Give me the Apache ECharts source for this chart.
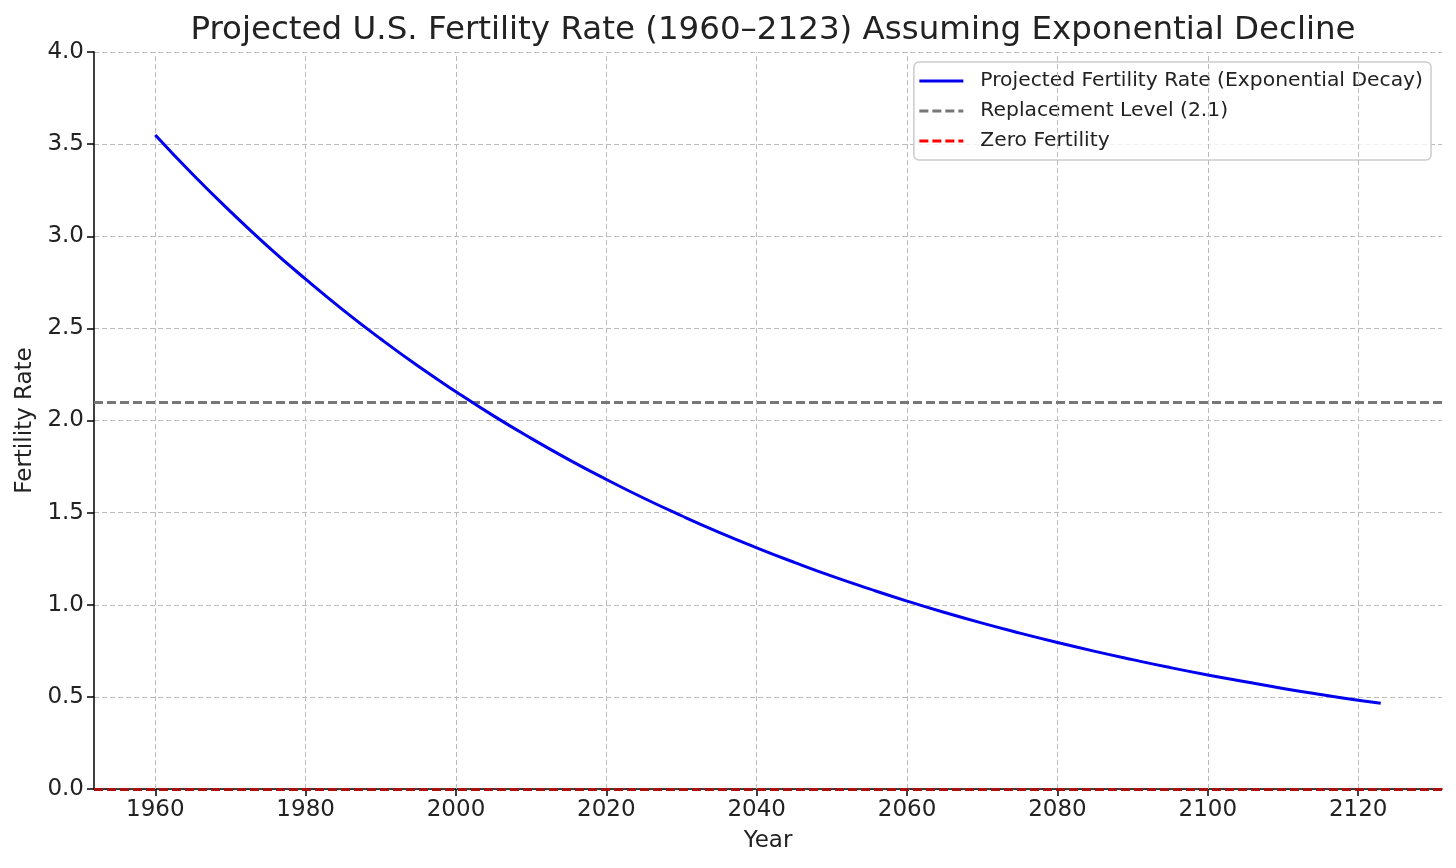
<!DOCTYPE html>
<html>
<head>
<meta charset="utf-8">
<script src="https://cdn.jsdelivr.net/npm/echarts@6/dist/echarts.min.js"></script>
<style>html,body{margin:0;padding:0;background:#fff}#c{width:1456px;height:868px}</style>
</head>
<body>
<div id="c"></div>
<script>
const years = [1960,1965,1970,1975,1980,1985,1990,1995,2000,2005,2010,2015,2020,2025,2030,2035,2040,2045,2050,2055,2060,2065,2070,2075,2080,2085,2090,2095,2100,2105,2110,2115,2120,2123];
const fertility = [3.55,3.335,3.134,2.944,2.767,2.599,2.442,2.294,2.156,2.025,1.903,1.788,1.680,1.578,1.483,1.393,1.309,1.230,1.155,1.086,1.020,0.958,0.900,0.846,0.795,0.747,0.702,0.659,0.619,0.582,0.546,0.513,0.482,0.465];
const replacementLevel = 2.1;
const zeroLevel = 0;
const xTicks = [1960,1980,2000,2020,2040,2060,2080,2100,2120];
const seriesNames = ['Projected Fertility Rate (Exponential Decay)','Replacement Level (2.1)','Zero Fertility'];

const font = 'DejaVu Sans';
const chart = echarts.init(document.getElementById('c'));
chart.setOption({
  animation: false,
  title: {text: 'Projected U.S. Fertility Rate (1960\u20132123) Assuming Exponential Decline', left: 768, textAlign: 'center', top: 9,
    textStyle: {fontFamily: font, fontSize: 32.5, fontWeight: 'normal', color: '#222'}},
  grid: {left: 94, right: 14, top: 52, bottom: 79, containLabel: false},
  legend: {
    orient: 'vertical', right: 25, top: 62, itemWidth: 44, itemHeight: 14, itemGap: 10,
    padding: [9, 8, 9, 4], borderColor: '#cccccc', borderWidth: 1.5, borderRadius: 5, backgroundColor: 'rgba(255,255,255,0.8)',
    textStyle: {fontFamily: font, fontSize: 20.3, color: '#222', padding: [0,0,0,12]},
    itemStyle: {opacity: 0},
    lineStyle: {width: 3},
    data: seriesNames
  },
  xAxis: {
    type: 'value', min: 1951.85, max: 2131.15,
    name: 'Year', nameLocation: 'middle', nameGap: 41,
    nameTextStyle: {fontFamily: font, fontSize: 23, color: '#222'},
    axisLine: {show: true, onZero: false, lineStyle: {color: '#000', width: 1.5}},
    axisTick: {show: true, length: 7, lineStyle: {color: '#000', width: 1.5}, customValues: xTicks},
    axisLabel: {fontFamily: font, fontSize: 23, color: '#222', margin: 10, customValues: xTicks, formatter: v => String(v)},
    splitLine: {show: false}
  },
  yAxis: {
    type: 'value', min: 0, max: 4, interval: 0.5,
    name: 'Fertility Rate', nameLocation: 'middle', nameGap: 56, nameRotate: 90,
    nameTextStyle: {fontFamily: font, fontSize: 23, color: '#222'},
    axisLine: {show: true, lineStyle: {color: '#000', width: 1.5}},
    axisTick: {show: true, length: 7, lineStyle: {color: '#000', width: 1.5}},
    axisLabel: {fontFamily: font, fontSize: 23, color: '#222', margin: 10, formatter: v => v.toFixed(1)},
    splitLine: {show: true, lineStyle: {color: '#bbbbbb', type: [5, 3], width: 1}}
  },
  series: [
    {
      name: 'gridX', type: 'line', data: [], silent: true, symbol: 'none',
      markLine: {silent: true, symbol: 'none', label: {show: false},
        lineStyle: {color: '#bbbbbb', type: [5, 3], width: 1},
        data: xTicks.map(v => ({xAxis: v}))}
    },
    {
      name: seriesNames[0], type: 'line', symbol: 'none', showSymbol: false, smooth: true, z: 5,
      data: years.map((y, i) => [y, fertility[i]]),
      lineStyle: {color: '#0000ee', width: 3}, itemStyle: {color: '#0000ee'}
    },
    {
      name: seriesNames[1], type: 'line', data: [], symbol: 'none', showSymbol: false,
      lineStyle: {color: '#777777', width: 3, type: [9, 4]}, itemStyle: {color: '#777777'},
      markLine: {silent: true, symbol: 'none', label: {show: false},
        lineStyle: {color: '#777777', width: 3, type: [9, 4]},
        data: [{yAxis: replacementLevel}]}
    },
    {
      name: seriesNames[2], type: 'line', data: [], symbol: 'none', showSymbol: false,
      lineStyle: {color: '#ff0000', width: 3, type: [9, 4]}, itemStyle: {color: '#ff0000'},
      markLine: {silent: true, symbol: 'none', label: {show: false},
        lineStyle: {color: '#aa1010', width: 3, type: [9, 4]},
        data: [{yAxis: zeroLevel}]}
    }
  ]
});
</script>
</body>
</html>
